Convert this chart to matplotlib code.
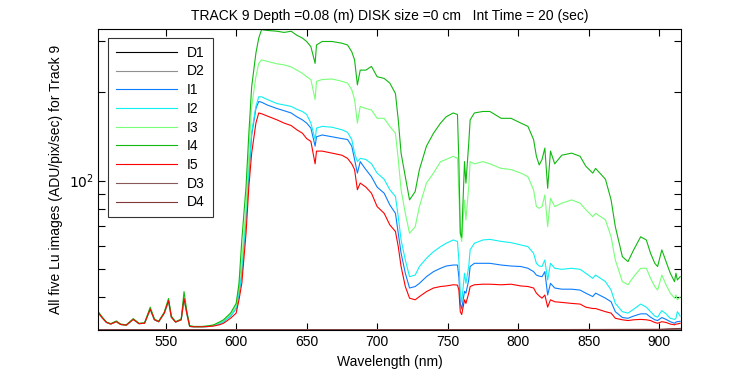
import matplotlib.pyplot as plt
from matplotlib.ticker import FixedLocator, NullFormatter

plt.rcParams['font.family'] = ['Liberation Sans', 'DejaVu Sans']

# Wavelength grid (nm) shared by the five light spectra
wl = [502, 505, 508, 511, 515, 518, 522, 527, 531, 535, 539, 542, 545, 549, 552,
      554, 557, 561, 563, 565, 567, 570, 576, 581, 584, 588, 591, 596, 600, 602,
      604, 607, 609, 611, 614, 616, 618, 622, 629, 634, 639, 643, 647, 650, 653,
      656, 657, 661, 668, 675, 679, 682, 684, 686, 688, 692, 696, 700, 705, 709,
      713, 715, 717, 720, 723, 727, 730, 735, 740, 745, 749, 754, 757, 758, 759,
      760, 762, 763, 765, 766, 769, 775, 780, 788, 795, 802, 807, 811, 813, 815,
      817, 819, 821, 823, 826, 831, 838, 844, 848, 853, 855, 862, 866, 869, 874,
      878, 882, 887, 891, 894, 897, 899, 902, 905, 908, 911, 912, 913, 915]

# shared low part 502-581 nm (first 24 points)
low = [35.5, 34.0, 32.8, 32.4, 33.0, 32.3, 32.1, 33.6, 32.5, 32.6, 36.4, 33.5, 33.0, 35.3, 38.9,
       34.2, 32.9, 33.5, 39.6, 35.2, 31.8, 31.7, 31.7, 31.8]
low_i4 = [35.8, 34.2, 32.9, 32.5, 33.2, 32.4, 32.2, 33.8, 32.6, 32.7, 37.0, 33.7, 33.1, 35.6, 39.6,
          34.5, 33.0, 33.7, 41.8, 35.8, 32.0, 31.8, 31.8, 32.0]

i1 = low + [32.0, 32.5, 33.0, 34.5, 36.6, 41.5,
            48.3, 75.3, 106, 143, 176, 186, 185, 181, 176, 173, 170, 165, 161, 157, 151,
            131, 141, 143, 141, 139, 138, 131, 118, 106, 116, 109, 103, 95, 90.5, 82.6,
            77.3, 66.1, 56.5, 48.3, 43.0, 43.5, 44.6, 47.0, 48.9, 50.2, 51.1, 51.5, 51.5, 47.0, 38.1,
            36.5, 41.9, 41.3, 45.8, 50.9, 52.2, 52.2, 52.2, 51.5, 51.1, 50.9, 50.2, 48.9, 47.6, 47.2,
            47.0, 48.9, 40.7, 44.6, 43.0, 42.6, 42.6, 42.3, 41.3, 40.2, 41.3, 39.7, 38.6, 35.7, 34.1,
            33.9, 34.5, 35.1, 35.1, 34.2, 33.5, 33.3, 34.1, 33.6, 33.0, 32.6, 32.9, 33.0, 33.1]

i2 = low + [32.0, 32.5, 33.0, 34.5, 36.6, 41.5,
            48.3, 75.3, 108, 146, 179, 193, 193, 189, 183, 181, 179, 175, 172, 168, 157,
            138, 151, 153, 152, 149, 146, 138, 124, 116, 119, 118, 114, 106, 101, 93,
            88.2, 75.3, 62.7, 53.6, 47.0, 47.6, 50.9, 54.3, 57.2, 59.5, 61.1, 62.7, 62.0, 53.6, 41.3,
            38.5, 48.3, 44.6, 50.9, 58.0, 61.1, 62.7, 63.0, 62.0, 61.4, 60.3, 59.5, 56.5, 52.2, 51.1,
            50.9, 53.6, 45.8, 52.2, 50.2, 49.8, 50.2, 49.8, 48.3, 46.4, 47.6, 45.2, 42.3, 38.1, 35.7,
            35.3, 36.4, 37.9, 37.0, 35.7, 34.5, 34.2, 36.0, 35.1, 33.9, 33.6, 33.9, 35.7, 34.5]

i3 = low + [32.1, 32.8, 33.3, 35.0, 37.5, 43.5,
            53.7, 81.5, 124, 179, 226, 251, 258, 255, 250, 248, 244, 238, 232, 226, 221,
            189, 218, 221, 222, 218, 215, 204, 189, 157, 179, 176, 174, 163, 163, 153,
            145, 118, 93, 77.3, 66.1, 69.6, 81.5, 98, 106, 116, 118, 121, 119, 90.5, 66,
            62, 85.9, 73.4, 95.4, 116, 114, 116, 114, 110, 109, 106, 103, 93, 81.5, 80.4,
            81.5, 89.3, 69.6, 87, 81.5, 83.7, 85.9, 83.7, 79.6, 75.3, 77.3, 73.4, 64.3, 53.6, 45.2,
            44.1, 47.0, 50.2, 50.2, 46.4, 43.5, 42.3, 47.6, 44.1, 41.3, 39.7, 40.7, 39.2, 40.0]

i4 = low_i4 + [32.2, 32.9, 33.5, 35.3, 38.1, 44.6,
               62.7, 95.4, 145, 209, 272, 306, 327, 325, 323, 320, 323, 313, 306, 298, 286,
               251, 290, 298, 298, 294, 290, 275, 258, 212, 238, 238, 245, 226, 223, 215,
               198, 161, 124, 103, 85.9, 91.7, 109, 131, 145, 157, 165, 170, 168, 116, 66.1,
               64, 116, 98, 134, 161, 170, 172, 172, 163, 163, 157, 153, 138, 121, 113,
               118, 129, 94.1, 126, 114, 122, 124, 121, 112, 106, 110, 101, 85.9, 69.6, 55.0,
               52.9, 58.0, 64.3, 62.7, 56.5, 52.2, 50.9, 58.0, 52.9, 48.3, 45.2, 48.3, 45.8, 47.0]

i5 = low + [31.9, 32.2, 32.6, 33.9, 35.3, 39.2,
            44.6, 66.1, 95.4, 124, 157, 170, 169, 166, 161, 157, 154, 149, 145, 139, 136,
            114, 126, 126, 124, 122, 119, 114, 109, 93, 98, 95, 90.5, 81.5, 77.3, 70.6,
            67.0, 59.5, 50.9, 43.5, 39.7, 39.2, 40.2, 41.8, 43.0, 43.5, 43.7, 44.1, 44.0, 42.3, 35.7,
            34.9, 39.2, 38.1, 41.3, 43.5, 44.1, 44.3, 44.3, 44.1, 44.3, 43.7, 43.5, 43.0, 41.3, 40.4,
            39.7, 40.7, 37.0, 39.2, 38.6, 38.4, 38.1, 37.9, 37.0, 36.6, 36.6, 35.7, 35.3, 33.9, 33.5,
            33.3, 33.5, 33.6, 33.5, 33.3, 32.8, 32.6, 33.0, 32.8, 32.4, 32.2, 32.4, 32.4, 32.6]

# dark frames, nearly flat at the bottom of the plot
wl_dark = [502, 600, 700, 800, 900, 915]
d1 = [31.0, 31.0, 31.0, 31.0, 31.0, 31.1]
d2 = [31.0, 31.0, 31.0, 31.0, 31.0, 31.1]
d3 = [31.0, 31.0, 31.0, 31.0, 31.1, 31.2]
d4 = [30.9, 30.9, 30.9, 31.0, 31.0, 31.3]

fig = plt.figure(figsize=(7.5, 3.75), dpi=100)
ax = fig.add_axes([0.1313, 0.1187, 0.7767, 0.8053])

lw = 0.8
ax.plot(wl_dark, d1, color='black', lw=lw, label='D1')
ax.plot(wl_dark, d2, color='#909090', lw=lw, label='D2')
ax.plot(wl, i1, color='#0a7dff', lw=lw, label='I1')
ax.plot(wl, i2, color='#10f0f0', lw=lw, label='I2')
ax.plot(wl, i3, color='#78ff78', lw=lw, label='I3')
ax.plot(wl, i4, color='#10b810', lw=lw, label='I4')
ax.plot(wl, i5, color='#ff0000', lw=lw, label='I5')
ax.plot(wl_dark, d3, color='#885858', lw=lw, label='D3')
ax.plot(wl_dark, d4, color='#803838', lw=lw, label='D4')

ax.set_yscale('log')
ax.set_xlim(502.3, 915.6)
ax.set_ylim(30.8, 330)
ax.set_xticks([550, 600, 650, 700, 750, 800, 850, 900])
ax.yaxis.set_major_locator(FixedLocator([100]))
ax.yaxis.set_minor_locator(FixedLocator([40, 50, 60, 70, 80, 90, 200, 300]))
ax.yaxis.set_minor_formatter(NullFormatter())
ax.set_yticklabels([r'$10^{2}$'])
ax.tick_params(which='both', direction='in', top=True, right=True,
               length=5, width=0.8, labelsize=10, colors='black')
for s in ax.spines.values():
    s.set_linewidth(0.8)

ax.set_xlabel('Wavelength (nm)', fontsize=10)
ax.set_ylabel('All five Lu images (ADU/pix/sec) for Track 9', fontsize=10)
ax.set_title('TRACK 9 Depth =0.08 (m) DISK size =0 cm   Int Time = 20 (sec)', fontsize=10)

leg = ax.legend(loc='upper left', bbox_to_anchor=(0.0163, 0.9685), frameon=True,
                fancybox=False, edgecolor='black', fontsize=10, handlelength=4.4,
                labelspacing=0.34, borderaxespad=0, borderpad=0.55, handletextpad=0.75)
leg.get_frame().set_linewidth(0.8)

plt.savefig('out.png', dpi=100)
